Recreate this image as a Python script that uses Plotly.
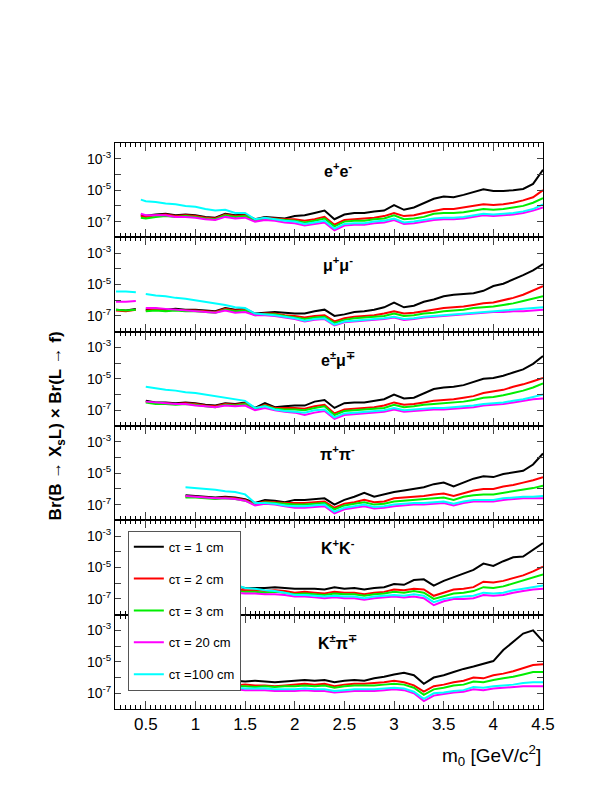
import plotly.graph_objects as go
from plotly.subplots import make_subplots

# mass grid (GeV/c^2); every curve ends at 4.5 and is aligned to the end of this grid
XS = [0.2, 0.3, 0.4, 0.45] + [round(0.5 + 0.1 * i, 2) for i in range(41)]

N = None
PANELS = ["e<sup>+</sup>e<sup>-</sup>", "μ<sup>+</sup>μ<sup>-</sup>", "e<sup>±</sup>μ<sup>∓</sup>",
          "π<sup>+</sup>π<sup>-</sup>", "K<sup>+</sup>K<sup>-</sup>", "K<sup>±</sup>π<sup>∓</sup>"]
LABELS = ["cτ = 1 cm", "cτ = 2 cm", "cτ = 3 cm", "cτ = 20 cm", "cτ =100 cm"]
COLORS = ["black", "#ff0000", "#00ee00", "#ff00ff", "#00ffff"]

# log10 of the limit; order: 1, 2, 3, 20, 100 cm
ee = [
    [-6.6, -6.62, -6.55, -6.5, -6.6, -6.55, -6.6, -6.7, -6.75, -6.5, -6.6, -6.55, -6.85, -6.7, -6.75, -6.8, -6.65,
     -6.6, -6.45, -6.3, -6.85, -6.55, -6.45, -6.45, -6.35, -6.3, -5.95,
     -6.25, -6.1, -5.8, -5.55, -5.4, -5.45, -5.3, -5.1, -4.95, -5.05, -5.05, -5.0, -4.92, -4.6, -3.7],
    [-6.65, -6.7, -6.6, -6.55, -6.65, -6.6, -6.65, -6.75, -6.8, -6.55, -6.65, -6.6, -6.9, -6.75, -6.8, -6.85, -6.85,
     -6.95, -6.85, -6.7, -7.2, -6.9, -6.85, -6.8, -6.75, -6.65, -6.45,
     -6.65, -6.6, -6.45, -6.3, -6.2, -6.2, -6.1, -6.0, -5.9, -5.95, -5.9, -5.8, -5.65, -5.45, -5.0],
    [-6.75, -6.8, -6.7, -6.65, -6.7, -6.65, -6.7, -6.8, -6.85, -6.6, -6.7, -6.65, -6.95, -6.8, -6.85, -6.9, -6.95,
     -7.05, -6.95, -6.8, -7.3, -7.0, -6.95, -6.95, -6.85, -6.8, -6.6,
     -6.85, -6.8, -6.7, -6.5, -6.45, -6.45, -6.4, -6.3, -6.2, -6.25, -6.2, -6.1, -6.0, -5.8, -5.5],
    [-6.5, -6.6, -6.6, -6.6, -6.7, -6.7, -6.75, -6.85, -6.9, -6.7, -6.8, -6.75, -7.0, -6.9, -6.95, -7.05, -7.1,
     -7.25, -7.15, -7.05, -7.55, -7.25, -7.2, -7.2, -7.1, -7.05, -6.9,
     -7.15, -7.1, -7.0, -6.9, -6.85, -6.85, -6.8, -6.7, -6.6, -6.65, -6.6, -6.55, -6.45, -6.3, -6.1],
    [-5.6, -5.7, -5.75, -5.85, -5.9, -6.0, -6.05, -6.2, -6.3, -6.25, -6.45, -6.45, -6.85, -6.75, -6.85, -6.95, -7.0,
     -7.15, -7.05, -6.95, -7.45, -7.15, -7.1, -7.1, -7.0, -6.95, -6.8,
     -7.05, -7.0, -6.9, -6.8, -6.75, -6.75, -6.7, -6.6, -6.5, -6.55, -6.5, -6.45, -6.35, -6.2, -5.9],
]

mumu = [
    [-6.6, -6.65, -6.55, N, -6.6, -6.55, -6.6, -6.55, -6.6, -6.6, -6.65, -6.7, -6.5, -6.6, -6.55, -6.85, -6.8, -6.75,
     -6.8, -6.85, -6.85, -6.7, -6.6, -7.0, -6.9, -6.75, -6.7, -6.6, -6.45, -6.15,
     -6.45, -6.35, -6.1, -5.95, -5.75, -5.65, -5.6, -5.55, -5.4, -5.1, -4.95, -4.7, -4.4, -4.1, -3.7],
    [-6.65, -6.7, -6.6, N, -6.65, -6.6, -6.65, -6.6, -6.65, -6.65, -6.7, -6.75, -6.55, -6.65, -6.6, -6.9, -6.85, -6.85,
     -6.95, -7.0, -7.1, -7.0, -6.95, -7.35, -7.15, -7.05, -7.0, -6.95, -6.85, -6.7,
     -6.85, -6.8, -6.7, -6.6, -6.5, -6.45, -6.4, -6.3, -6.2, -6.15, -6.0, -5.85, -5.65, -5.4, -5.1],
    [-6.6, -6.65, -6.6, N, -6.7, -6.65, -6.7, -6.65, -6.7, -6.7, -6.75, -6.8, -6.6, -6.7, -6.65, -6.95, -6.9, -6.9,
     -7.0, -7.1, -7.2, -7.1, -7.05, -7.45, -7.25, -7.15, -7.1, -7.05, -7.0, -6.85,
     -7.0, -6.95, -6.85, -6.8, -6.7, -6.65, -6.6, -6.5, -6.45, -6.4, -6.3, -6.2, -6.05, -5.9, -5.75],
    [-6.1, -6.1, -6.05, N, -6.5, -6.5, -6.55, -6.6, -6.65, -6.7, -6.75, -6.8, -6.65, -6.8, -6.75, -6.95, -6.95, -7.0,
     -7.1, -7.2, -7.35, -7.25, -7.2, -7.6, -7.4, -7.35, -7.3, -7.25, -7.2, -7.1,
     -7.25, -7.2, -7.1, -7.05, -7.0, -6.95, -6.9, -6.85, -6.8, -6.75, -6.75, -6.7, -6.7, -6.65, -6.6],
    [-5.45, -5.45, -5.5, N, -5.6, -5.7, -5.75, -5.85, -5.9, -6.0, -6.1, -6.2, -6.3, -6.45, -6.5, -6.85, -6.9, -6.95,
     -7.05, -7.15, -7.3, -7.2, -7.15, -7.55, -7.35, -7.3, -7.25, -7.2, -7.15, -7.05,
     -7.2, -7.15, -7.05, -7.0, -6.95, -6.9, -6.85, -6.8, -6.75, -6.7, -6.65, -6.6, -6.55, -6.5, -6.45],
]

emu = [
    [-6.4, -6.5, -6.5, -6.55, -6.5, -6.55, -6.65, -6.7, -6.55, -6.6, -6.5, -6.85, -6.55, -6.8, -6.75, -6.7,
     -6.7, -6.45, -6.35, -6.85, -6.55, -6.5, -6.5, -6.4, -6.3, -6.0,
     -6.25, -6.2, -5.9, -5.65, -5.55, -5.5, -5.4, -5.2, -5.0, -4.95, -4.8, -4.6, -4.4, -4.05, -3.55],
    [-6.45, -6.55, -6.55, -6.6, -6.55, -6.6, -6.7, -6.75, -6.6, -6.65, -6.55, -6.9, -6.65, -6.85, -6.85, -6.85,
     -6.9, -6.75, -6.65, -7.2, -6.95, -6.9, -6.85, -6.8, -6.7, -6.5,
     -6.65, -6.6, -6.5, -6.4, -6.35, -6.3, -6.2, -6.1, -5.9, -5.8, -5.7, -5.5, -5.35, -5.15, -4.95],
    [-6.5, -6.6, -6.6, -6.65, -6.6, -6.65, -6.75, -6.8, -6.65, -6.7, -6.6, -6.95, -6.7, -6.9, -6.95, -6.95,
     -7.0, -6.85, -6.75, -7.3, -7.05, -7.0, -6.95, -6.9, -6.85, -6.65,
     -6.8, -6.75, -6.65, -6.6, -6.55, -6.5, -6.45, -6.35, -6.2, -6.15, -6.05, -5.9, -5.75, -5.55, -5.3],
    [-6.45, -6.5, -6.55, -6.6, -6.6, -6.7, -6.75, -6.8, -6.7, -6.75, -6.7, -7.0, -6.85, -7.0, -7.1, -7.15,
     -7.3, -7.15, -7.05, -7.55, -7.3, -7.25, -7.2, -7.15, -7.1, -6.95,
     -7.1, -7.05, -7.0, -6.95, -6.95, -6.9, -6.85, -6.8, -6.7, -6.65, -6.6, -6.5, -6.4, -6.3, -6.25],
    [-5.5, -5.6, -5.7, -5.75, -5.85, -5.9, -6.0, -6.1, -6.2, -6.3, -6.4, -6.85, -6.75, -6.95, -7.05, -7.1,
     -7.15, -7.0, -6.95, -7.45, -7.2, -7.15, -7.1, -7.05, -7.0, -6.85,
     -7.0, -6.95, -6.9, -6.85, -6.85, -6.8, -6.75, -6.7, -6.6, -6.55, -6.5, -6.4, -6.3, -6.15, -6.0],
]

pipi = [
    [-6.4, -6.45, -6.5, -6.55, -6.5, -6.55, -6.65, -6.9, -6.7, -6.75, -6.85, -6.7,
     -6.7, -6.65, -6.6, -7.0, -6.7, -6.5, -6.25, -6.5, -6.35, -6.2,
     -6.1, -6.0, -5.9, -5.7, -5.6, -5.85, -5.6, -5.35, -5.2, -5.25, -5.05, -4.95, -4.85, -4.45, -3.75],
    [-6.5, -6.5, -6.55, -6.6, -6.55, -6.6, -6.7, -6.95, -6.8, -6.85, -6.9, -6.9,
     -6.9, -6.85, -6.8, -7.2, -6.95, -6.85, -6.7, -6.85, -6.8, -6.6,
     -6.55, -6.5, -6.45, -6.35, -6.3, -6.45, -6.25, -6.1, -6.0, -6.0, -5.85, -5.75, -5.6, -5.45, -5.25],
    [-6.55, -6.55, -6.6, -6.65, -6.6, -6.65, -6.75, -7.0, -6.85, -6.9, -6.95, -7.0,
     -7.0, -6.95, -6.9, -7.3, -7.05, -6.95, -6.85, -7.0, -6.95, -6.8,
     -6.75, -6.7, -6.65, -6.6, -6.55, -6.7, -6.5, -6.4, -6.35, -6.35, -6.25, -6.15, -6.05, -5.95, -5.8],
    [-6.45, -6.5, -6.55, -6.6, -6.6, -6.65, -6.75, -7.05, -6.95, -7.0, -7.1, -7.2,
     -7.2, -7.15, -7.1, -7.55, -7.3, -7.2, -7.1, -7.25, -7.2, -7.1,
     -7.05, -7.0, -7.0, -6.95, -6.9, -7.05, -6.9, -6.8, -6.8, -6.8, -6.7, -6.65, -6.6, -6.6, -6.6],
    [-5.9, -5.95, -6.0, -6.05, -6.15, -6.2, -6.35, -6.9, -6.9, -6.95, -7.05, -7.1,
     -7.1, -7.05, -7.0, -7.45, -7.2, -7.1, -7.0, -7.15, -7.1, -7.0,
     -6.95, -6.9, -6.9, -6.85, -6.8, -6.95, -6.8, -6.7, -6.7, -6.7, -6.6, -6.55, -6.5, -6.5, -6.45],
]

kk = [
    [-6.2, -6.3, -6.3, -6.3, -6.25, -6.3, -6.35, -6.35, -6.35, -6.4, -6.25, -6.35, -6.3, -6.4, -6.3, -6.25, -6.05,
     -6.1, -5.8, -5.75, -6.15, -5.85, -5.6, -5.4, -5.15, -4.75, -4.9, -4.6, -4.35, -4.3, -3.9, -3.45],
    [-6.4, -6.45, -6.45, -6.5, -6.45, -6.5, -6.6, -6.55, -6.6, -6.65, -6.55, -6.6, -6.6, -6.7, -6.6, -6.55, -6.4,
     -6.45, -6.35, -6.4, -6.8, -6.6, -6.4, -6.35, -6.25, -5.9, -5.95, -5.85, -5.65, -5.5, -5.25, -4.95],
    [-6.5, -6.55, -6.55, -6.6, -6.55, -6.6, -6.7, -6.65, -6.7, -6.75, -6.65, -6.7, -6.7, -6.8, -6.7, -6.65, -6.55,
     -6.6, -6.5, -6.6, -7.0, -6.8, -6.65, -6.6, -6.5, -6.25, -6.3, -6.2, -6.0, -5.85, -5.65, -5.45],
    [-6.6, -6.65, -6.65, -6.7, -6.7, -6.75, -6.85, -6.85, -6.9, -6.95, -6.9, -6.95, -6.95, -7.05, -6.95, -6.9, -6.85,
     -6.9, -6.85, -6.95, -7.4, -7.15, -7.0, -7.0, -6.95, -6.75, -6.8, -6.75, -6.6, -6.5, -6.4, -6.35],
    [-6.1, -6.3, -6.35, -6.45, -6.5, -6.6, -6.75, -6.75, -6.8, -6.85, -6.8, -6.85, -6.85, -6.95, -6.85, -6.8, -6.75,
     -6.8, -6.7, -6.8, -7.2, -7.0, -6.9, -6.85, -6.8, -6.6, -6.65, -6.6, -6.45, -6.35, -6.25, -6.15],
]

kpi = [
    [-6.15, -6.2, -6.25, -6.2, -6.25, -6.3, -6.25, -6.2,
     -6.15, -6.2, -6.15, -6.3, -6.2, -6.15, -6.2, -6.05, -5.95, -5.8,
     -5.7, -5.85, -6.4, -6.0, -5.85, -5.65, -5.45, -5.3, -5.1, -4.95, -4.25, -3.7, -3.2, -3.0, -3.7],
    [-6.4, -6.5, -6.45, -6.5, -6.5, -6.55, -6.5, -6.45,
     -6.4, -6.45, -6.4, -6.55, -6.45, -6.4, -6.4, -6.35, -6.3, -6.2,
     -6.3, -6.5, -6.9, -6.55, -6.45, -6.3, -6.2, -6.0, -6.05, -5.85, -5.75, -5.6, -5.4, -5.2, -5.15],
    [-6.45, -6.55, -6.55, -6.6, -6.55, -6.6, -6.55, -6.55,
     -6.5, -6.55, -6.5, -6.65, -6.55, -6.5, -6.5, -6.5, -6.45, -6.4,
     -6.45, -6.65, -7.1, -6.75, -6.65, -6.5, -6.45, -6.25, -6.3, -6.15, -6.05, -5.95, -5.8, -5.65, -5.65],
    [-6.6, -6.75, -6.8, -6.8, -6.8, -6.85, -6.85, -6.85,
     -6.8, -6.85, -6.85, -6.95, -6.9, -6.85, -6.85, -6.85, -6.8, -6.75,
     -6.8, -7.0, -7.5, -7.15, -7.05, -6.95, -6.9, -6.75, -6.8, -6.7, -6.65, -6.6, -6.55, -6.55, -6.55],
    [-6.5, -6.65, -6.7, -6.7, -6.7, -6.75, -6.75, -6.75,
     -6.7, -6.75, -6.75, -6.85, -6.8, -6.75, -6.75, -6.75, -6.7, -6.65,
     -6.7, -6.9, -7.35, -7.0, -6.95, -6.85, -6.8, -6.6, -6.65, -6.55, -6.5, -6.45, -6.35, -6.3, -6.3],
]

DATA = [ee, mumu, emu, pipi, kk, kpi]
FONT = "Liberation Sans, Arial, sans-serif"

fig = make_subplots(rows=6, cols=1, shared_xaxes=True, vertical_spacing=0)

for row, curves in enumerate(DATA, start=1):
    for i, vals in enumerate(curves):
        xs = XS[-len(vals):]
        ys = [None if v is None else 10 ** v for v in vals]
        fig.add_trace(go.Scatter(
            x=xs, y=ys, mode="lines",
            line=dict(color=COLORS[i], width=2),
            name=LABELS[i], legendgroup=LABELS[i],
            showlegend=(row == 1), connectgaps=False,
        ), row=row, col=1)
    fig.add_annotation(
        text="<b>" + PANELS[row - 1] + "</b>", xref="x domain", yref="y domain",
        x=0.52, y=0.84, showarrow=False, font=dict(size=16, color="black", family=FONT),
        row=row, col=1,
    )

decades = [10.0 ** k for k in range(-8, -1)]
ticktext = ["", "10<sup>-7</sup>", "", "10<sup>-5</sup>", "", "10<sup>-3</sup>", ""]
fig.update_yaxes(
    type="log", range=[-8, -2], tickvals=decades, ticktext=ticktext,
    ticks="inside", ticklen=6, mirror="ticks", showline=True, linecolor="black", linewidth=1,
    showgrid=False, zeroline=False, tickfont=dict(size=14, family=FONT, color="black"),
)
fig.update_xaxes(
    range=[0.19, 4.5], dtick=0.5, tick0=0.5, ticks="inside", ticklen=8, mirror="ticks",
    showline=True, linecolor="black", linewidth=1, showgrid=False, zeroline=False,
    minor=dict(dtick=0.05, ticks="inside", ticklen=4, tickcolor="black"),
    tickfont=dict(size=17, family=FONT, color="black"),
)

fig.add_annotation(
    text="m<sub>0</sub> [GeV/c<sup>2</sup>]", xref="paper", yref="paper", x=1.0, y=-0.055,
    xanchor="right", yanchor="top", showarrow=False, font=dict(size=19, family=FONT, color="black"),
)
fig.add_annotation(
    text="<b>Br(B → X<sub>s</sub>L) × Br(L → f)</b>", xref="paper", yref="paper", x=-0.165, y=0.5,
    textangle=-90, showarrow=False, font=dict(size=17, family=FONT, color="black"),
)

fig.update_layout(
    width=612, height=792, paper_bgcolor="white", plot_bgcolor="white",
    margin=dict(l=107, r=77, t=135, b=91),
    font=dict(family=FONT, color="black"),
    legend=dict(
        x=0.03, y=0.315, xanchor="left", yanchor="top", bgcolor="white",
        bordercolor="#555555", borderwidth=1, font=dict(size=13, family=FONT),
        tracegroupgap=12, itemwidth=30,
    ),
)

fig.write_html("out.html")
